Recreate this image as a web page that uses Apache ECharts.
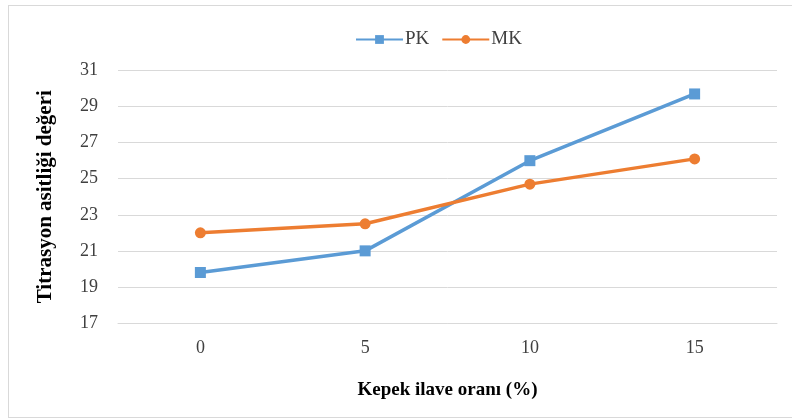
<!DOCTYPE html>
<html>
<head>
<meta charset="utf-8">
<script src="https://cdn.jsdelivr.net/npm/echarts@6/dist/echarts.min.js"></script>
<style>
  html, body { margin: 0; padding: 0; background: #fff; }
  #frame { position: absolute; left: 8px; top: 5px; width: 800px; height: 413px; border: 1px solid #d9d9d9; border-right: none; box-sizing: border-box; }
  #chart { position: absolute; left: 0; top: 0; width: 792px; height: 419px; }
</style>
</head>
<body>
<div id="frame"></div>
<div id="chart"></div>
<script>
// Bran addition ratio (%) on the x axis
const categories = ['0', '5', '10', '15'];
// Titration acidity values per sample type
const pkValues = [19.8, 21.0, 26.0, 29.7];
const mkValues = [22.0, 22.5, 24.7, 26.1];
const seriesNames = ['PK', 'MK'];

const serif = '"Liberation Serif", "Times New Roman", serif';
const chart = echarts.init(document.getElementById('chart'), null, { renderer: 'canvas' });

chart.setOption({
  animation: false,
  backgroundColor: 'transparent',
  legend: {
    data: seriesNames,
    top: 25,
    left: 350,
    itemWidth: 47,
    itemHeight: 11,
    itemGap: 12,
    textStyle: { fontFamily: serif, fontSize: 19, color: '#404040', padding: [0, 0, 0, -3] }
  },
  grid: { left: 118, right: 15, top: 70.5, bottom: 96, containLabel: false },
  xAxis: {
    type: 'category',
    data: categories,
    boundaryGap: true,
    name: 'Kepek ilave oranı (%)',
    nameLocation: 'middle',
    nameGap: 58,
    nameTextStyle: { fontFamily: serif, fontSize: 19, fontWeight: 'bold', color: '#000' },
    axisLine: { show: true, lineStyle: { color: '#d9d9d9', width: 1 } },
    axisTick: { show: false },
    axisLabel: { fontFamily: serif, fontSize: 18, color: '#404040', margin: 16 },
    splitLine: { show: false }
  },
  yAxis: {
    type: 'value',
    min: 17,
    max: 31,
    interval: 2,
    name: 'Titrasyon asitliği değeri',
    nameLocation: 'middle',
    nameGap: 62,
    nameTextStyle: { fontFamily: serif, fontSize: 21, fontWeight: 'bold', color: '#000' },
    axisLine: { show: false },
    axisTick: { show: false },
    axisLabel: { fontFamily: serif, fontSize: 18, color: '#404040', margin: 20 },
    splitLine: { show: true, lineStyle: { color: '#d9d9d9', width: 1 } }
  },
  series: [
    {
      name: seriesNames[0],
      type: 'line',
      data: pkValues,
      symbol: 'rect',
      symbolSize: 11,
      color: '#5b9bd5',
      lineStyle: { width: 3.5, color: '#5b9bd5' },
      itemStyle: { color: '#5b9bd5' }
    },
    {
      name: seriesNames[1],
      type: 'line',
      data: mkValues,
      symbol: 'circle',
      symbolSize: 11,
      color: '#ed7d31',
      lineStyle: { width: 3.5, color: '#ed7d31' },
      itemStyle: { color: '#ed7d31' }
    }
  ]
});
</script>
</body>
</html>
